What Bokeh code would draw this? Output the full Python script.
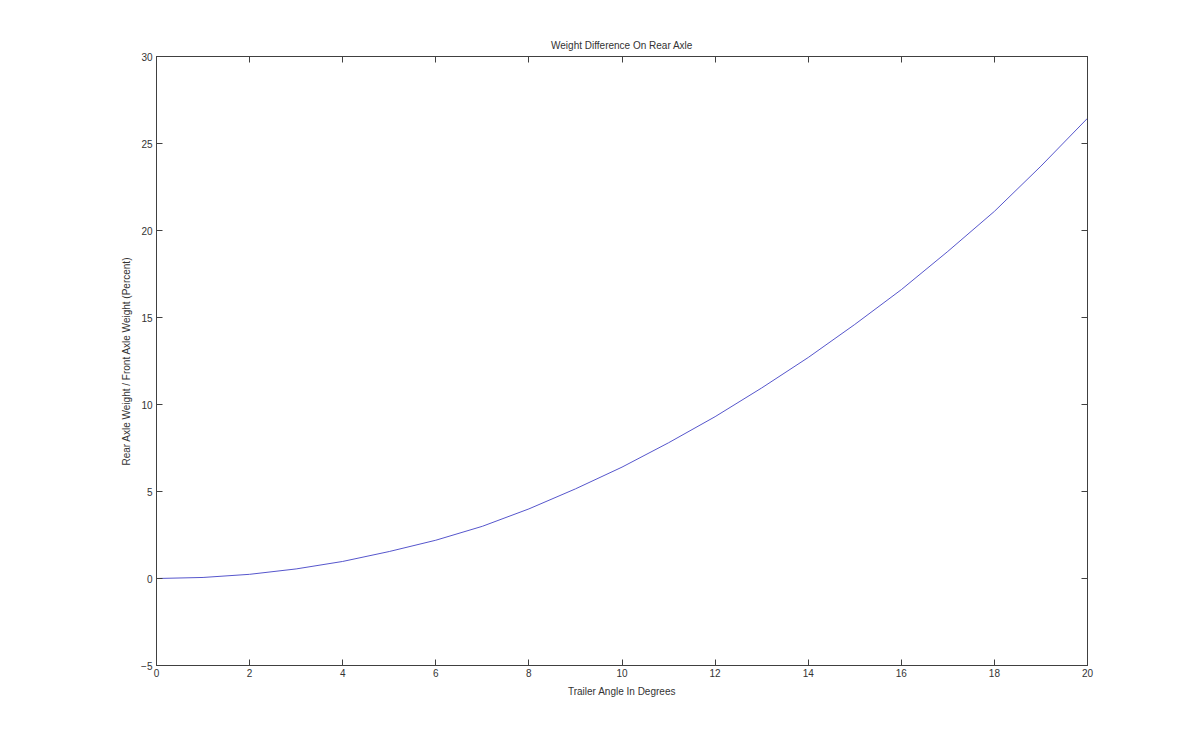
from bokeh.plotting import figure
from bokeh.models import LinearAxis, FixedTicker, Range1d
from bokeh.embed import file_html
from bokeh.resources import INLINE

# Data
angle_deg = [0, 1, 2, 3, 4, 5, 6, 7, 8, 9, 10, 11, 12, 13, 14, 15, 16, 17, 18, 19, 20]
weight_pct = [0.0, 0.06, 0.24, 0.55, 0.98, 1.55, 2.2, 3.0, 4.0, 5.15, 6.4, 7.8, 9.3,
              10.95, 12.7, 14.6, 16.6, 18.8, 21.1, 23.7, 26.45]
x_ticks = [0, 2, 4, 6, 8, 10, 12, 14, 16, 18, 20]
y_ticks = [-5, 0, 5, 10, 15, 20, 25, 30]

FONT = "Liberation Sans"
TXT = "#333333"
AX = "#404040"

p = figure(width=1184, height=732, output_backend="svg", toolbar_location=None,
           x_range=Range1d(0, 20), y_range=Range1d(-5, 30),
           title="Weight Difference On Rear Axle",
           x_axis_label="Trailer Angle In Degrees",
           y_axis_label="Rear Axle Weight / Front Axle Weight (Percent)",
           min_border_left=156, min_border_right=97, min_border_top=56, min_border_bottom=67)

p.title.align = "center"
p.title.text_font = FONT
p.title.text_font_size = "10px"
p.title.text_font_style = "normal"
p.title.text_color = TXT
p.title.offset = 0
p.title.standoff = 12

p.grid.visible = False
p.outline_line_color = AX
p.outline_line_width = 1
p.background_fill_color = "white"
p.border_fill_color = "white"

p.line(angle_deg, weight_pct, line_color="#5656cc", line_width=1)

for ax, ticks in ((p.xaxis[0], x_ticks), (p.yaxis[0], y_ticks)):
    ax.ticker = FixedTicker(ticks=ticks)
    ax.major_tick_in = 6
    ax.major_tick_out = 0
    ax.minor_tick_line_color = None
    ax.axis_line_color = AX
    ax.major_tick_line_color = AX
    ax.major_label_text_font = FONT
    ax.major_label_text_font_size = "10px"
    ax.major_label_text_color = TXT
    ax.axis_label_text_font = FONT
    ax.axis_label_text_font_size = "10px"
    ax.axis_label_text_font_style = "normal"
    ax.axis_label_text_color = TXT
    ax.major_label_standoff = 4
    ax.axis_label_standoff = 6

p.xaxis[0].major_label_standoff = 3
p.yaxis[0].axis_label_standoff = 6

top = LinearAxis(ticker=FixedTicker(ticks=x_ticks),
                 major_label_overrides={t: "" for t in x_ticks},
                 major_label_standoff=9,
                 major_tick_in=6, major_tick_out=0, minor_tick_line_color=None,
                 axis_line_color=AX, major_tick_line_color=AX)
right = LinearAxis(ticker=FixedTicker(ticks=y_ticks),
                   major_label_overrides={t: "" for t in y_ticks},
                   major_tick_in=6, major_tick_out=0, minor_tick_line_color=None,
                   axis_line_color=AX, major_tick_line_color=AX)
p.add_layout(top, "above")
p.add_layout(right, "right")

open("out.html", "w").write(file_html(p, INLINE))
